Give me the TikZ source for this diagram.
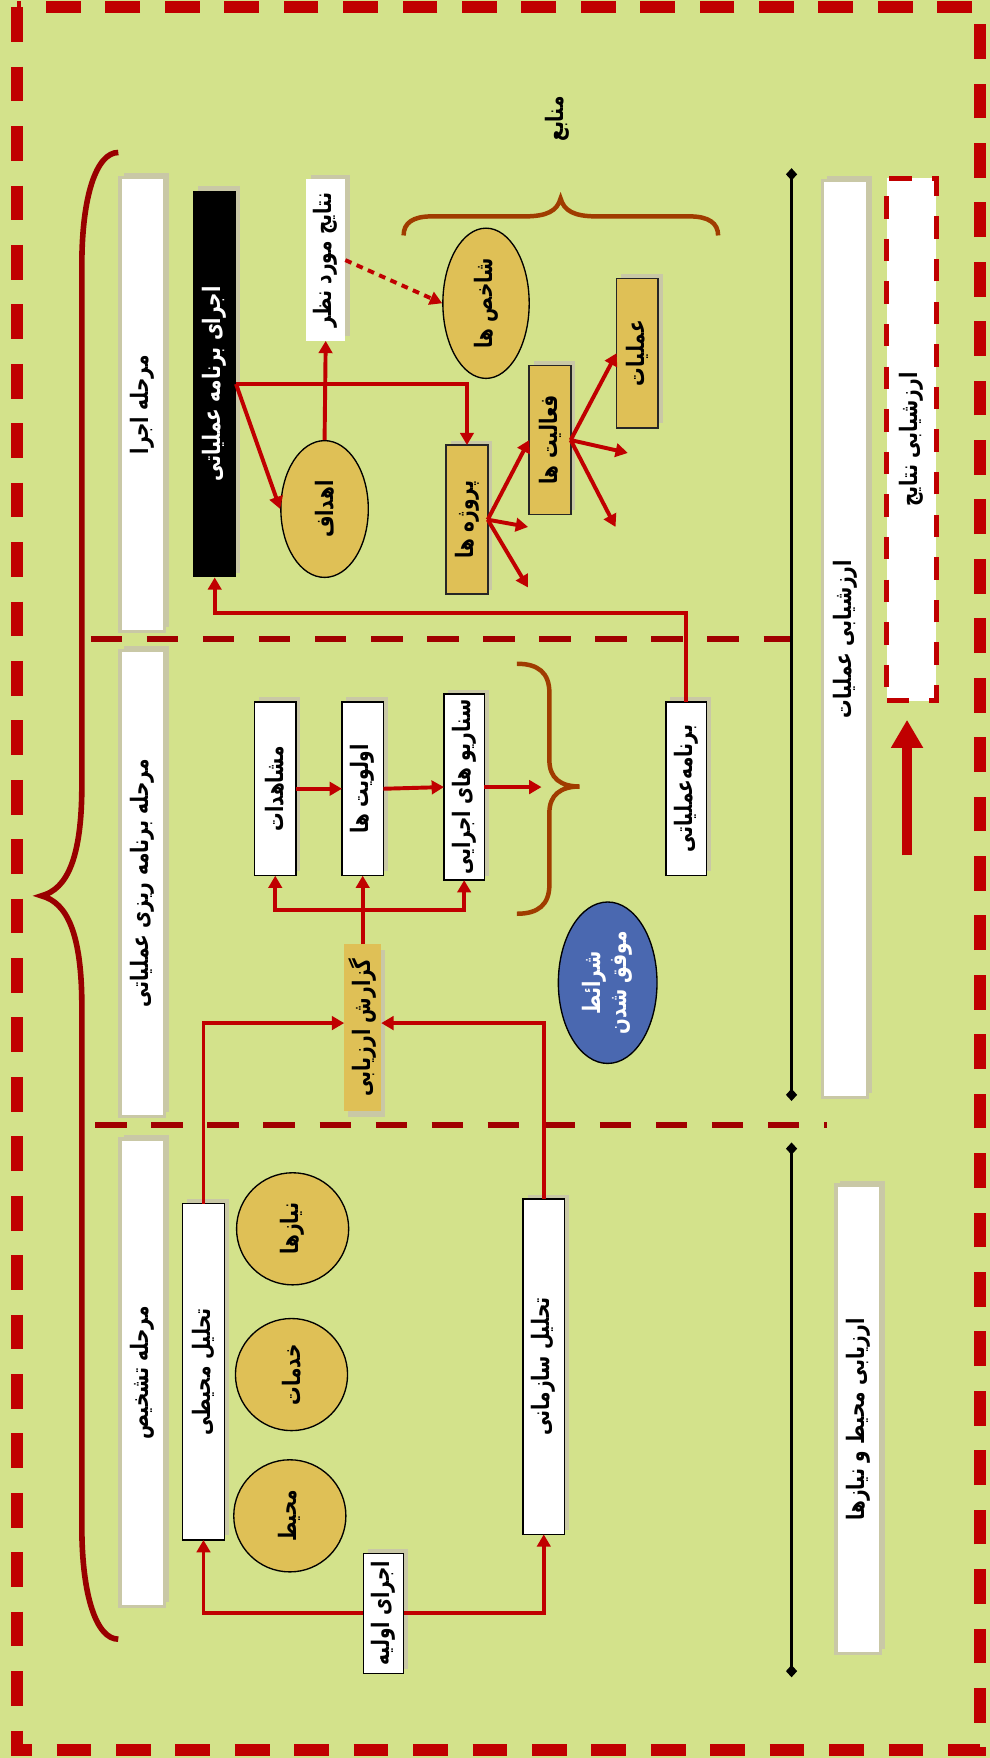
\documentclass[tikz,border=0pt]{standalone}
\usepackage{fontspec}
\usetikzlibrary{arrows.meta,shapes.geometric,shadows,calc}
\TeXXeTstate=1
\newfontfamily\fa[Script=Arabic]{DejaVu Sans}
\definecolor{bg}{RGB}{211,226,139}
\definecolor{bred}{RGB}{192,0,0}
\definecolor{dred}{RGB}{160,0,0}
\definecolor{bracec}{RGB}{153,0,0}
\definecolor{brownc}{RGB}{160,60,0}
\definecolor{gold}{RGB}{223,192,86}
\definecolor{blueel}{RGB}{74,104,176}
\definecolor{shad}{RGB}{201,200,166}
\newcommand{\fasz}{\fontsize{16.5}{20}\selectfont\fa\bfseries}
\newcommand{\rtx}[1]{\rotatebox{90}{\scalebox{1}[1.3]{\fasz\beginR #1\endR}}}
\begin{document}
\begin{tikzpicture}[x=1pt,y=-1pt,
  bx/.style={rectangle, inner sep=0pt, outer sep=0pt},
  stage/.style={bx, fill=white, draw=shad, line width=3pt, minimum width=40pt,
     general shadow={fill=shad, shadow xshift=4pt, shadow yshift=4pt}},
  wbox/.style={bx, fill=white, draw=black, line width=1.2pt, minimum width=37pt,
     general shadow={fill=shad, shadow xshift=4pt, shadow yshift=4pt}},
  gbox/.style={bx, fill=gold, draw=black!85, line width=1.5pt, minimum width=37pt, minimum height=133pt,
     general shadow={fill=shad, shadow xshift=4pt, shadow yshift=4pt}},
  gell/.style={ellipse, fill=gold, draw=black, line width=1.2pt, inner sep=0pt},
  conn/.style={draw=bred, line width=3.5pt, >={Triangle[length=11pt,width=12pt]}},
  blk/.style={draw=black, line width=2.5pt, {Diamond[length=11pt,width=10pt]}-{Diamond[length=11pt,width=10pt]}},
  divider/.style={draw=dred, line width=5.5pt, dash pattern=on 28pt off 22pt},
  bracel/.style={draw=bracec, line width=5pt},
  braceb/.style={draw=brownc, line width=4pt}
]
\useasboundingbox (0,0) rectangle (883,1568);
\fill[bg] (0,0) rectangle (883,1568);
\draw[bred, line width=11pt, dash pattern=on 31pt off 22pt] (15,6.5) rectangle (874,1561);

% big left brace
\draw[bracel] (105.5,136) .. controls (86,136) and (73,175) .. (73,236) -- (73,700)
  .. controls (73,765) and (60,793) .. (37,799) .. controls (60,805) and (73,833) .. (73,898)
  -- (73,1362) .. controls (73,1423) and (86,1462) .. (105.5,1462);
% top brown brace
\draw[braceb] (360,210) .. controls (360,199) and (368,193) .. (385,193) -- (468,193)
  .. controls (488,193) and (497,188) .. (500,177) .. controls (503,188) and (512,193) .. (532,193)
  -- (615,193) .. controls (632,193) and (640.5,199) .. (640.5,210);
% right brown brace
\draw[braceb] (461,592) .. controls (480,592) and (490,600) .. (490,618) -- (490,678)
  .. controls (490,694) and (500,701.5) .. (517,701.5) .. controls (500,701.5) and (490,709) .. (490,725)
  -- (490,789) .. controls (490,807) and (480,815) .. (461,815);

% dividers
\coordinate (dv1) at (81,570); \coordinate (dv2) at (706,570);
\coordinate (dv3) at (85,1003.5); \coordinate (dv4) at (738,1003.5);
\draw[divider] (dv1) -- (dv2);
\draw[divider] (dv3) -- (dv4);

% black lines
\coordinate (b1) at (706,150); \coordinate (b2) at (706,982);
\coordinate (b3) at (706,1019); \coordinate (b4) at (706,1496);
\draw[blk] (b1) -- (b2);
\draw[blk] (b3) -- (b4);

% stage boxes
\node[stage, minimum height=405pt] (st3) at (127,361) {\rtx{مرحله اجرا}};
\node[stage, minimum height=416pt] (st2) at (127,788) {\rtx{مرحله برنامه ریزی عملیاتی}};
\node[stage, minimum height=417pt] (st1) at (127,1224.5) {\rtx{مرحله تشخیص}};

% execution stage
\node[bx, fill=black, minimum width=38pt, minimum height=345pt, text=white,
  general shadow={fill=shad, shadow xshift=4pt, shadow yshift=4pt}] (exe) at (191.5,342.5) {\rtx{اجرای برنامه عملیاتی}};
\node[bx, fill=white, minimum width=35pt, minimum height=144pt,
  general shadow={fill=shad, shadow xshift=4pt, shadow yshift=4pt}] (res) at (290.5,232) {\rtx{نتایج مورد نظر}};
\node[gell, minimum width=78pt, minimum height=122pt] (goal) at (289.5,454) {\rtx{اهداف}};
\node[gbox] (proj) at (416.5,463.5) {\rtx{پروژه ها}};
\node[gbox] (act) at (490.5,392.5) {\rtx{فعالیت ها}};
\node[gbox] (op) at (568.5,315) {\rtx{عملیات}};
\node[gell, minimum width=77pt, minimum height=134pt] (ind) at (433.5,270.5) {\rtx{شاخص ها}};
\node[bx] (src) at (497,106) {\rtx{منابع}};

% planning stage
\node[wbox, minimum height=155pt] (obs) at (245.5,703.5) {\rtx{مشاهدات}};
\node[wbox, minimum height=155pt] (pri) at (323.5,703.5) {\rtx{اولویت ها}};
\node[wbox, minimum width=36pt, minimum height=166pt] (scen) at (414,702) {\rtx{سناریو های اجرایی}};
\node[wbox, minimum width=36pt, minimum height=155pt] (plan) at (612,703.5) {\rtx{برنامه‌عملیاتی}};
\node[bx, fill=gold, minimum width=33pt, minimum height=149pt,
  general shadow={fill=shad, shadow xshift=3pt, shadow yshift=-5pt}] (rep) at (323.5,916.5) {\rtx{گزارش ارزیابی}};
\node[ellipse, fill=blueel, draw=black, line width=1.2pt, inner sep=0pt, minimum width=88pt, minimum height=144pt, text=white] (cond) at (542,876.5)
  {\rotatebox{90}{\scalebox{1}[1.3]{\fasz\begin{tabular}{@{}c@{}}\beginR شرائط\endR\\[-2pt]\beginR موفق شدن\endR\end{tabular}}}};

% diagnosis stage
\node[wbox, minimum height=300pt] (env) at (181.5,1223.5) {\rtx{تحلیل محیطی}};
\node[wbox, minimum height=299pt] (org) at (485,1219) {\rtx{تحلیل سازمانی}};
\node[gell, minimum width=100pt, minimum height=100pt] (need) at (261,1096) {\rtx{نیازها}};
\node[gell, minimum width=100pt, minimum height=100pt] (serv) at (260,1226) {\rtx{خدمات}};
\node[gell, minimum width=100pt, minimum height=100pt] (envc) at (258.5,1352) {\rtx{محیط}};
\node[wbox, minimum width=36pt, minimum height=107pt] (init) at (342,1439) {\rtx{اجرای اولیه}};

% right column
\node[stage, minimum height=818pt] (evop) at (753.5,570) {\rtx{ارزشیابی عملیات}};
\node[bx, fill=white, draw=bred, line width=4.5pt, dash pattern=on 20pt off 18pt, minimum width=44pt, minimum height=466pt] (evres) at (813,392) {\rtx{ارزشیابی نتایج}};
\node[stage, minimum height=418pt] (evenv) at (765.5,1266) {\rtx{ارزیابی محیط و نیازها}};
\coordinate (ta0) at (809,763); \coordinate (ta1) at (809,642);
\draw[bred, line width=9pt, -{Triangle[length=25pt,width=27pt]}] (ta0) -- (ta1);

% connectors: execution
\coordinate (k1) at (400,547);
\draw[conn,->] (plan.north) |- (k1) -| (exe.south);
\draw[conn,->] (exe.east) -- (goal.west);
\draw[conn,->] (exe.east) -| (proj.north);
\draw[conn,->] (goal.north) -- (res.south);
\draw[conn,->, dash pattern=on 6pt off 5pt] (res.east) -- (ind.west);
\coordinate (p1) at (471,470); \coordinate (p2) at (471,524);
\draw[conn,->] (proj.east) -- (act.west);
\draw[conn,->] (proj.east) -- (p1);
\draw[conn,->] (proj.east) -- (p2);
\coordinate (a1) at (560,404); \coordinate (a2) at (549,470);
\draw[conn,->] (act.east) -- (op.west);
\draw[conn,->] (act.east) -- (a1);
\draw[conn,->] (act.east) -- (a2);

% connectors: planning
\draw[conn,->] (obs.east) -- (pri.west);
\draw[conn,->] (pri.east) -- (scen.west);
\coordinate (bt) at (483,702);
\draw[conn,->] (scen.east) -- (bt);
\coordinate (fork) at (323.5,812);
\draw[conn] (rep.north) -- (fork);
\draw[conn,->] (fork) -- (pri.south);
\draw[conn,->] (fork) -| (obs.south);
\draw[conn,->] (fork) -| (scen.south);

% connectors: diagnosis
\draw[conn,->] (env.north) |- ([yshift=4pt]rep.west);
\draw[conn,->] (org.north) |- ([yshift=4pt]rep.east);
\draw[conn,->] (init.west) -| (env.south);
\draw[conn,->] (init.east) -| (org.south);
\end{tikzpicture}
\end{document}
